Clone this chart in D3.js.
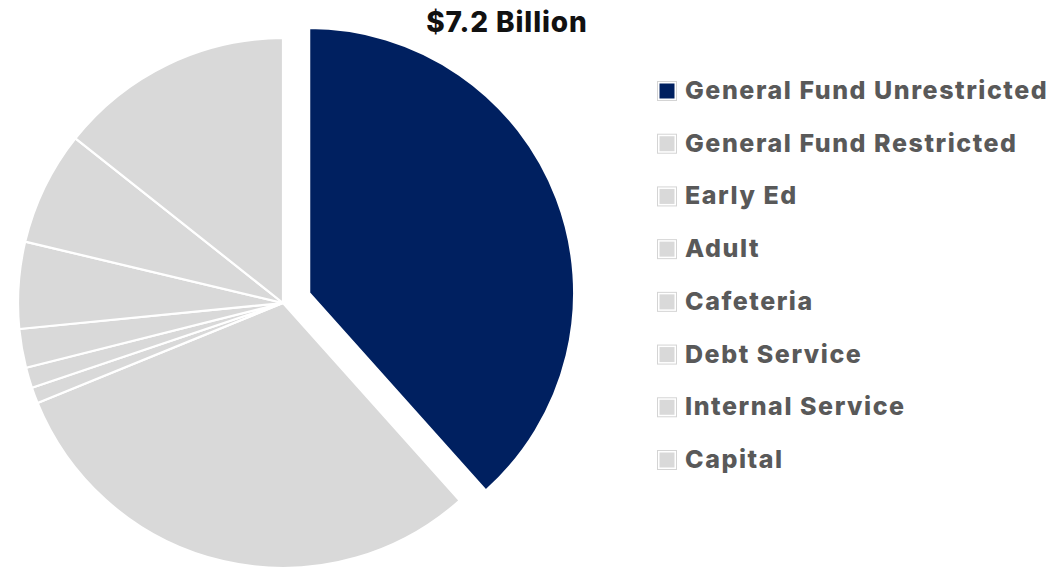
<!DOCTYPE html>
<html>
<head>
<meta charset="utf-8">
<script src="https://cdn.jsdelivr.net/npm/d3@7"></script>
<style>
  html, body { margin: 0; padding: 0; background: #ffffff; }
  svg { display: block; }
  text { font-family: Inter, "Open Sans", sans-serif; }
</style>
</head>
<body>
<svg id="chart" width="1057" height="570"></svg>
<script>
// Budget by fund, billions of dollars
const funds = ["General Fund Unrestricted", "General Fund Restricted", "Early Ed", "Adult",
               "Cafeteria", "Debt Service", "Internal Service", "Capital"];
const amounts = [2.76, 2.19, 0.07, 0.09, 0.17, 0.38, 0.50, 1.03];
const highlighted = ["General Fund Unrestricted"];
const totalLabel = "$7.2 Billion";

const W = 1057, H = 570;
const cx = 283, cy = 303, radius = 265, explode = 28;
const navy = "#002060", grey = "#d9d9d9";

const svg = d3.select("#chart");

const data = funds.map((f, i) => ({ fund: f, value: amounts[i] }));
const pie = d3.pie().value(d => d.value).sort(null).startAngle(0).endAngle(2 * Math.PI);
const arc = d3.arc().innerRadius(0).outerRadius(radius);
const color = f => highlighted.includes(f) ? navy : grey;

const g = svg.append("g").attr("transform", `translate(${cx},${cy})`);
g.selectAll("path.slice")
  .data(pie(data))
  .join("path")
  .attr("class", "slice")
  .attr("d", arc)
  .attr("fill", d => color(d.data.fund))
  .attr("stroke", "#ffffff")
  .attr("stroke-width", 2.2)
  .attr("stroke-linejoin", "round")
  .attr("transform", d => {
    if (!highlighted.includes(d.data.fund)) return null;
    const mid = (d.startAngle + d.endAngle) / 2;
    return `translate(${explode * Math.sin(mid)},${-explode * Math.cos(mid)})`;
  });

// Total label
svg.append("text")
  .attr("x", 507).attr("y", 32)
  .attr("text-anchor", "middle")
  .attr("font-size", 28)
  .attr("font-weight", 800)
  .attr("letter-spacing", 0.9)
  .attr("fill", "#111111")
  .text(totalLabel);

// Legend
const legend = svg.append("g").attr("transform", "translate(657,0)");
const rowY = d3.scalePoint().domain(funds).range([99, 468]);
const rows = legend.selectAll("g.row").data(funds).join("g")
  .attr("class", "row")
  .attr("transform", f => `translate(0,${rowY(f)})`);
rows.append("rect")
  .attr("x", 0.5).attr("y", -17.5).attr("width", 19).attr("height", 19)
  .attr("fill", "#ffffff").attr("stroke", "#d4d4d4").attr("stroke-width", 1);
rows.append("rect")
  .attr("x", 2.5).attr("y", -15.5).attr("width", 15).attr("height", 15)
  .attr("fill", f => color(f));
rows.append("text")
  .attr("x", 28).attr("y", 0)
  .attr("font-size", 25)
  .attr("font-weight", 800)
  .attr("letter-spacing", 1.55)
  .attr("fill", "#595959")
  .text(f => f);
</script>
</body>
</html>
